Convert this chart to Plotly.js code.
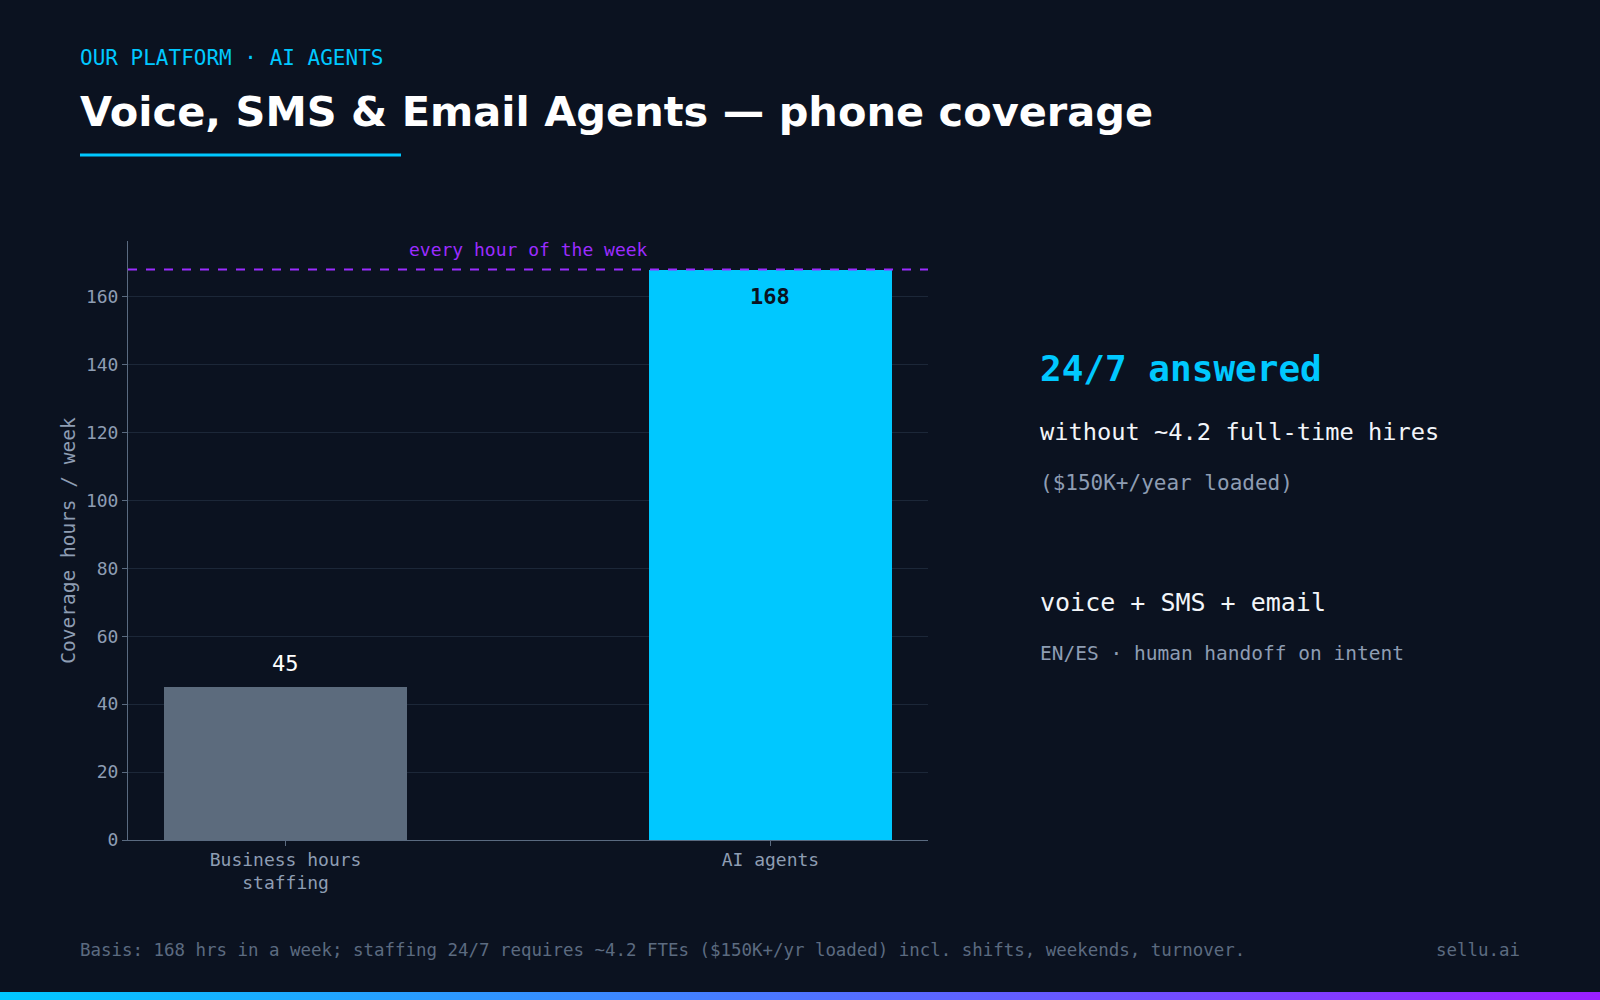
<!DOCTYPE html>
<html>
<head>
<meta charset="utf-8">
<script src="https://cdn.plot.ly/plotly-3.0.1.min.js"></script>
<style>
  html, body { margin: 0; padding: 0; background: #0b1220; }
  #wrap { position: relative; width: 1600px; height: 1000px; overflow: hidden; }
  #chart { width: 1600px; height: 1000px; }
  #grad { position: absolute; left: 0; top: 992px; width: 1600px; height: 8px;
          background: linear-gradient(90deg, #00c8ff 0%, #9b1fff 100%); }
</style>
</head>
<body>
<div id="wrap">
  <div id="chart"></div>
  <div id="grad"></div>
</div>
<script>
// ---- data ----
const categories = ["Business hours<br>staffing", "AI agents"];
const coverageHours = [45, 168];
const weekHours = 168;
const yTickValues = [0, 20, 40, 60, 80, 100, 120, 140, 160];

const kicker = "OUR PLATFORM · AI AGENTS";
const headline = "Voice, SMS & Email Agents — phone coverage";
const yTitle = "Coverage hours / week";
const refLabel = "every hour of the week";
const sideLines = [
  "24/7 answered",
  "without ~4.2 full-time hires",
  "($150K+/year loaded)",
  "voice + SMS + email",
  "EN/ES · human handoff on intent"
];
const footnote = "Basis: 168 hrs in a week; staffing 24/7 requires ~4.2 FTEs ($150K+/yr loaded) incl. shifts, weekends, turnover.";
const brand = "sellu.ai";

// ---- styling / layout ----
const BG = "#0b1220";
const CYAN = "#00c8ff";
const PURPLE = "#9b2cff";
const MUTED = "#8e9db3";
const MONO = "DejaVu Sans Mono, monospace";
const SANS = "DejaVu Sans, sans-serif";

const L = 128, R = 928, T = 241, B = 840, W = 1600, H = 1000;
const px = x => (x - L) / (R - L);
const py = y => (B - y) / (B - T);

const barColors = ["#5c6b7d", CYAN];

const trace = {
  type: "bar",
  x: [0, 1],
  y: coverageHours,
  width: 0.5,
  marker: { color: barColors, line: { width: 0 } },
  hoverinfo: "skip"
};

const ann = [];
function txt(text, x, y, size, color, opts = {}) {
  ann.push(Object.assign({
    text: text, xref: "paper", yref: "paper", x: px(x), y: py(y),
    xanchor: "left", yanchor: "middle", showarrow: false,
    font: { family: MONO, size: size, color: color }
  }, opts));
}

txt(kicker, 78, 58, 21, CYAN);
txt(headline, 78, 111, 41.5, "#ffffff", { font: { family: SANS, size: 41.5, color: "#ffffff", weight: "bold" } });

txt(sideLines[0], 1038, 368, 36, CYAN, { font: { family: MONO, size: 36, color: CYAN, weight: "bold" } });
txt(sideLines[1], 1038, 432, 23.7, "#f2f5f9");
txt(sideLines[2], 1038, 483, 21, MUTED);
txt(sideLines[3], 1038, 602, 25, "#f2f5f9");
txt(sideLines[4], 1038, 653, 19.5, MUTED);

txt(footnote, 78, 950, 17.45, "#5c6b80");
txt(brand, 1522, 950, 17.45, "#5c6b80", { xanchor: "right" });

// reference label
ann.push({
  text: refLabel, xref: "paper", yref: "y", x: 0.5, y: weekHours,
  xanchor: "center", yanchor: "middle", yshift: 20, showarrow: false,
  font: { family: MONO, size: 18, color: PURPLE }
});

// bar value labels
coverageHours.forEach((v, i) => {
  const inside = v >= weekHours;
  ann.push({
    text: inside ? "<b>" + v + "</b>" : String(v),
    xref: "x", yref: "y", x: i, y: v,
    xanchor: "center", yanchor: "middle",
    yshift: inside ? -27 : 24, showarrow: false,
    font: { family: MONO, size: 22, color: inside ? BG : "#ffffff" }
  });
});

const layout = {
  width: W, height: H,
  paper_bgcolor: BG, plot_bgcolor: BG,
  margin: { l: L, r: W - R, t: T, b: H - B, pad: 0 },
  showlegend: false,
  bargap: 0,
  xaxis: {
    range: [-0.325, 1.325],
    tickvals: [0, 1], ticktext: categories,
    showgrid: false, zeroline: false,
    showline: true, linecolor: "#5a6a80", linewidth: 1,
    ticks: "outside", ticklen: 5, tickcolor: "#5a6a80",
    ticklabelstandoff: -2,
    tickfont: { family: MONO, size: 18, color: MUTED },
    fixedrange: true
  },
  yaxis: {
    range: [0, weekHours * 1.05],
    tickvals: yTickValues,
    showgrid: true, gridcolor: "#1c2738", gridwidth: 1,
    zeroline: false,
    showline: true, linecolor: "#5a6a80", linewidth: 1,
    ticks: "outside", ticklen: 5, tickcolor: "#5a6a80",
    tickfont: { family: MONO, size: 18, color: MUTED },
    title: { text: yTitle, font: { family: MONO, size: 19.5, color: MUTED }, standoff: 5 },
    fixedrange: true
  },
  shapes: [
    { type: "line", xref: "paper", yref: "y", x0: 0, x1: 1, y0: weekHours, y1: weekHours,
      line: { color: PURPLE, width: 2, dash: "dash" }, layer: "above" },
    { type: "line", xref: "paper", yref: "paper", x0: px(80), x1: px(401), y0: py(155), y1: py(155),
      line: { color: CYAN, width: 3 } }
  ],
  annotations: ann
};

Plotly.newPlot("chart", [trace], layout, { displayModeBar: false, staticPlot: true });
</script>
</body>
</html>
